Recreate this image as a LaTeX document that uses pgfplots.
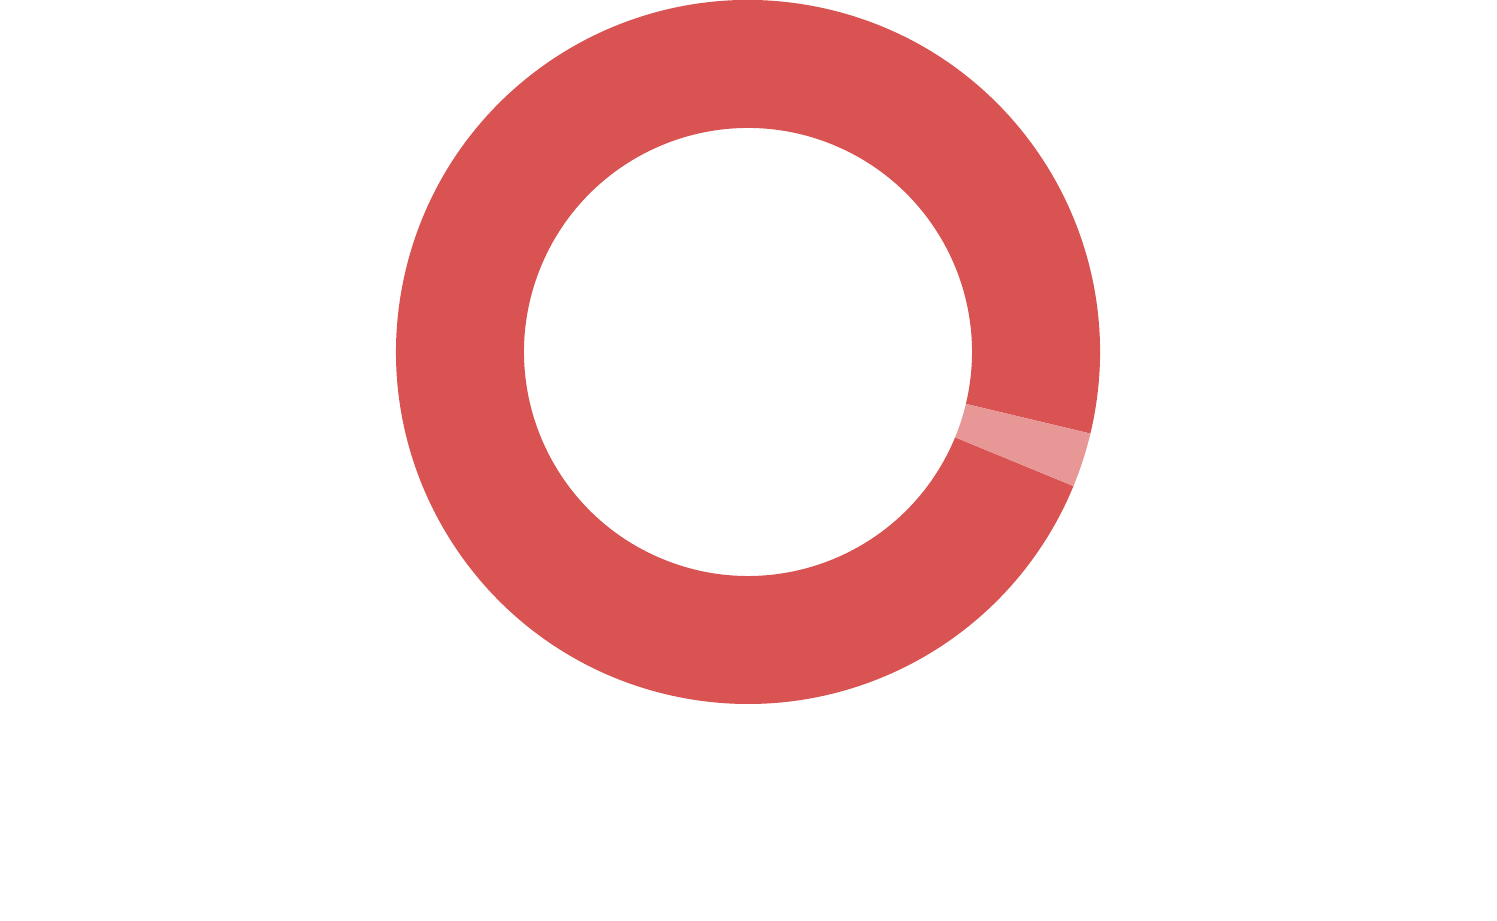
\documentclass[border=0pt]{standalone}
\usepackage{pgfplots}
\pgfplotsset{compat=1.18}
\definecolor{mainred}{HTML}{D95353}
\definecolor{lightred}{HTML}{E89797}
\begin{document}
\begin{tikzpicture}
\begin{axis}[
  x=1cm, y=1cm, scale only axis,
  xmin=-7.48, xmax=7.49, ymin=-5.69, ymax=3.52,
  hide axis, clip=false]
% values (percent) of the two segments
\def\vA{97.5}
\def\vB{2.5}
\def\Ro{3.52}
\def\Ri{2.24}
\pgfmathsetmacro{\startA}{-13.4}
\pgfmathsetmacro{\endA}{\startA+3.6*\vA}
\pgfmathsetmacro{\endB}{\endA+3.6*\vB}
\coordinate (bl) at (axis cs:-7.48,-5.69);
\coordinate (tr) at (axis cs:7.49,3.52);
% segment A
\fill[mainred] (axis cs:{\Ro*cos(\startA)},{\Ro*sin(\startA)}) arc[start angle=\startA, end angle=\endA, radius=\Ro cm]
  -- (axis cs:{\Ri*cos(\endA)},{\Ri*sin(\endA)}) arc[start angle=\endA, end angle=\startA, radius=\Ri cm] -- cycle;
% segment B
\fill[lightred] (axis cs:{\Ro*cos(\endA)},{\Ro*sin(\endA)}) arc[start angle=\endA, end angle=\endB, radius=\Ro cm]
  -- (axis cs:{\Ri*cos(\endB)},{\Ri*sin(\endB)}) arc[start angle=\endB, end angle=\endA, radius=\Ri cm] -- cycle;
\end{axis}
\pgfresetboundingbox
\path[use as bounding box] (bl) rectangle (tr);
\end{tikzpicture}
\end{document}
